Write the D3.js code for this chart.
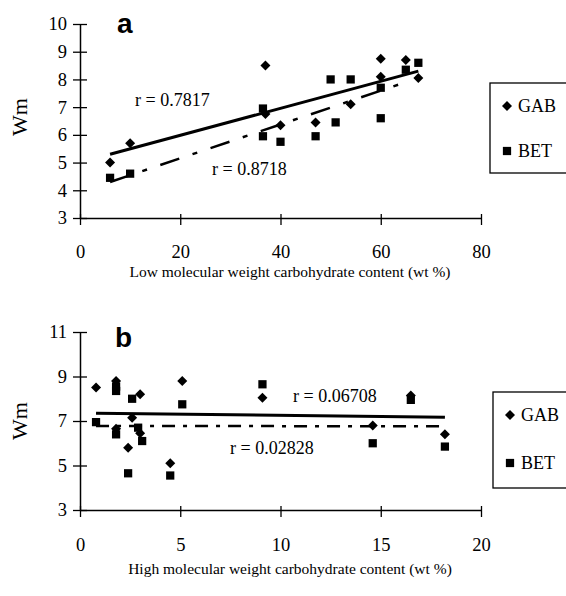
<!DOCTYPE html>
<html lang="en">
<head>
<meta charset="UTF-8">
<title>Wm vs carbohydrate content</title>
<script src="https://d3js.org/d3.v7.min.js"></script>
<style>
  body { margin: 0; background: #fff; }
  svg text { font-family: "Liberation Serif", "DejaVu Serif", serif; fill: #000; }
  svg text.letter { font-family: "Liberation Sans", Arial, sans-serif; font-weight: bold; }
  .domain { stroke: #000; stroke-width: 1.5px; }
  .tick line { stroke: #000; stroke-width: 1.3px; }
</style>
</head>
<body>
<svg width="566" height="596"></svg>
<script>
// panel a - low molecular weight carbohydrate
var lowGabX = [6, 10, 37, 37, 40, 47, 54, 60, 60, 65, 67.5];
var lowGabY = [5.0, 5.7, 8.5, 6.75, 6.35, 6.45, 7.1, 8.75, 8.1, 8.7, 8.05];
var lowBetX = [6, 10, 36.5, 36.5, 40, 47, 50, 51, 54, 60, 60, 65, 67.5];
var lowBetY = [4.45, 4.6, 6.95, 5.95, 5.75, 5.95, 8.0, 6.45, 8.0, 7.7, 6.6, 8.35, 8.6];
var lowGabFit = [[6, 5.3], [67.5, 8.3]];
var lowBetFit = [[6, 4.3], [65, 7.9]];
var lowXTicks = [0, 20, 40, 60, 80];
var lowYTicks = [3, 4, 5, 6, 7, 8, 9, 10];

// panel b - high molecular weight carbohydrate
var highGabX = [0.8, 1.8, 1.8, 2.4, 2.6, 3.0, 3.0, 4.5, 5.1, 9.1, 14.6, 16.5, 18.2];
var highGabY = [8.5, 8.8, 6.65, 5.8, 7.15, 8.2, 6.45, 5.1, 8.8, 8.05, 6.8, 8.15, 6.4];
var highBetX = [0.8, 1.8, 1.8, 1.8, 2.4, 2.6, 2.9, 3.1, 4.5, 5.1, 9.1, 14.6, 16.5, 18.2];
var highBetY = [6.95, 8.55, 8.35, 6.4, 4.65, 8.0, 6.7, 6.1, 4.55, 7.75, 8.65, 6.0, 7.95, 5.85];
var highGabFit = [[0.8, 7.35], [18.2, 7.17]];
var highBetFit = [[0.8, 6.78], [18.2, 6.76]];
var highXTicks = [0, 5, 10, 15, 20];
var highYTicks = [3, 5, 7, 9, 11];

var svg = d3.select("svg");

function pairs(xs, ys) {
  return xs.map(function(x, i) { return [x, ys[i]]; });
}

var diamond = d3.symbol().type(d3.symbolSquare).size(50);
var square = d3.symbol().type(d3.symbolSquare).size(68);

function drawPanel(opt) {
  var x = d3.scaleLinear().domain(opt.xDomain).range([80, 481]);
  var y = d3.scaleLinear().domain(opt.yDomain).range(opt.yRange);
  var g = svg.append("g");

  // axes, ticks cross the axis line
  var xAxis = g.append("g")
    .attr("transform", "translate(0," + opt.yRange[0] + ")")
    .call(d3.axisBottom(x).tickValues(opt.xTicks).tickFormat(d3.format("d"))
      .tickSize(7).tickSizeOuter(0).tickPadding(opt.xPad));
  xAxis.selectAll(".tick line").attr("y1", -4);
  xAxis.selectAll(".tick text").style("font-size", "18.5px");

  var yAxis = g.append("g")
    .attr("transform", "translate(80,0)")
    .call(d3.axisLeft(y).tickValues(opt.yTicks).tickFormat(d3.format("d"))
      .tickSize(7).tickSizeOuter(0).tickPadding(6));
  yAxis.selectAll(".tick line").attr("x1", 7);
  yAxis.selectAll(".tick text").style("font-size", "18.5px");

  // fit lines
  var line = d3.line().x(function(d) { return x(d[0]); }).y(function(d) { return y(d[1]); });
  g.append("path").datum(opt.gabFit).attr("d", line)
    .attr("fill", "none").attr("stroke", "#000").attr("stroke-width", 3);
  g.append("path").datum(opt.betFit).attr("d", line)
    .attr("fill", "none").attr("stroke", "#000").attr("stroke-width", 2.5)
    .attr("stroke-dasharray", opt.dash);

  // markers
  g.selectAll(".bet").data(pairs(opt.betX, opt.betY)).enter().append("path")
    .attr("class", "bet").attr("d", square)
    .attr("transform", function(d) { return "translate(" + x(d[0]) + "," + y(d[1]) + ")"; });
  g.selectAll(".gab").data(pairs(opt.gabX, opt.gabY)).enter().append("path")
    .attr("class", "gab").attr("d", diamond)
    .attr("transform", function(d) { return "translate(" + x(d[0]) + "," + y(d[1]) + ") rotate(45)"; });

  // labels
  g.append("text").attr("class", "letter").attr("x", opt.letter[0]).attr("y", opt.letter[1])
    .style("font-size", "28px").text(opt.letterText);
  g.append("text").attr("transform", "translate(27," + opt.wmY + ") rotate(-90)")
    .attr("text-anchor", "middle").style("font-size", "22px").text("Wm");
  g.append("text").attr("x", 290).attr("y", opt.titleY)
    .attr("text-anchor", "middle").style("font-size", "15.5px").text(opt.title);
  opt.notes.forEach(function(n) {
    g.append("text").attr("x", n[0]).attr("y", n[1]).style("font-size", "18px").text(n[2]);
  });

  // legend
  var lg = g.append("g").attr("transform", "translate(" + opt.legend[0] + "," + opt.legend[1] + ")");
  lg.append("rect").attr("x", 0).attr("y", 0).attr("width", 80).attr("height", opt.legend[2])
    .attr("fill", "#fff").attr("stroke", "#000").attr("stroke-width", 1.3);
  lg.append("path").attr("d", diamond).attr("transform", "translate(17," + opt.legRows[0] + ") rotate(45)");
  lg.append("text").attr("x", 28).attr("y", opt.legRows[0] + 6).style("font-size", "18px").text("GAB");
  lg.append("path").attr("d", square).attr("transform", "translate(17," + opt.legRows[1] + ")");
  lg.append("text").attr("x", 28).attr("y", opt.legRows[1] + 6).style("font-size", "18px").text("BET");
}

drawPanel({
  xDomain: [0, 80], yDomain: [3, 10], yRange: [218, 24],
  xTicks: lowXTicks, yTicks: lowYTicks, xPad: 20,
  gabX: lowGabX, gabY: lowGabY, betX: lowBetX, betY: lowBetY,
  gabFit: lowGabFit, betFit: lowBetFit, dash: "20,14,5,14",
  letter: [117, 33], letterText: "a", wmY: 117, titleY: 277,
  title: "Low molecular weight carbohydrate content (wt %)",
  notes: [[135, 106, "r = 0.7817"], [212, 175, "r = 0.8718"]],
  legend: [490, 83, 90], legRows: [23, 68]
});

drawPanel({
  xDomain: [0, 20], yDomain: [3, 11], yRange: [510, 332],
  xTicks: highXTicks, yTicks: highYTicks, xPad: 21,
  gabX: highGabX, gabY: highGabY, betX: highBetX, betY: highBetY,
  gabFit: highGabFit, betFit: highBetFit, dash: "13,8,4,8",
  letter: [115, 347], letterText: "b", wmY: 421, titleY: 574,
  title: "High molecular weight carbohydrate content (wt %)",
  notes: [[293, 402, "r = 0.06708"], [230, 454, "r = 0.02828"]],
  legend: [493, 392, 96], legRows: [23, 71]
});
</script>
</body>
</html>
